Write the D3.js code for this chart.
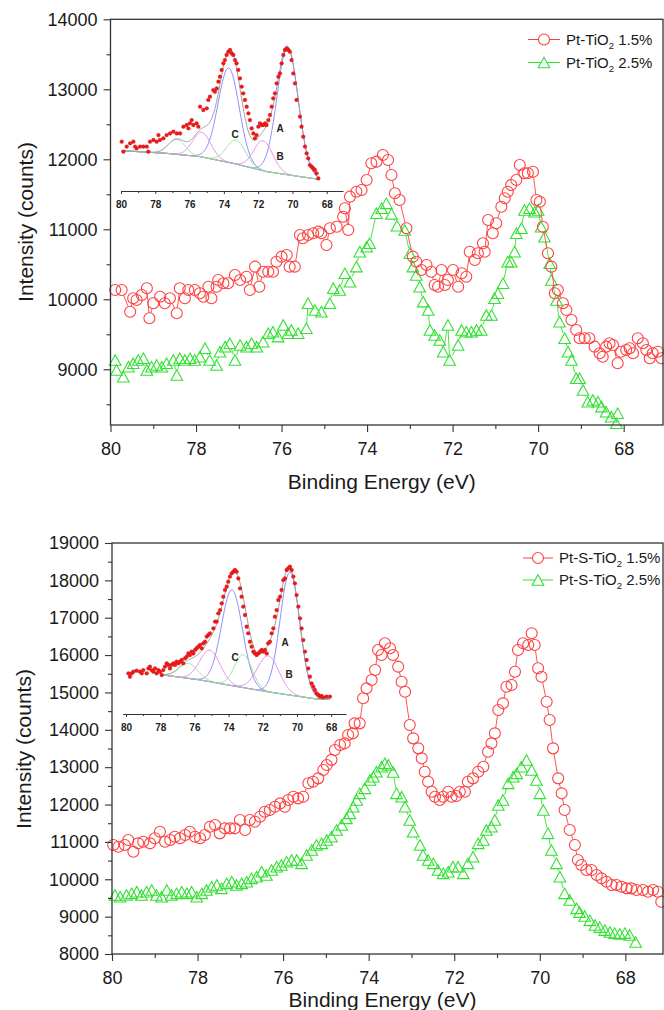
<!DOCTYPE html>
<html><head><meta charset="utf-8">
<script src="https://cdn.jsdelivr.net/npm/d3@7"></script>
<style>
body{margin:0;background:#fff}
svg{display:block}
text{font-family:"Liberation Sans",Arial,Helvetica,sans-serif}
</style>
</head><body>
<svg id="c" width="664" height="1010"></svg>
<script>
// ---------------- DATA ----------------
const xMajorTicks = [80, 78, 76, 74, 72, 70, 68];
const xMinorTicks = [79, 77, 75, 73, 71, 69];
const topYTicks = [9000, 10000, 11000, 12000, 13000, 14000];
const topYMinor = [8500, 9500, 10500, 11500, 12500, 13500];
const botYTicks = [8000, 9000, 10000, 11000, 12000, 13000, 14000, 15000, 16000, 17000, 18000, 19000];
const botYMinor = [8500, 9500, 10500, 11500, 12500, 13500, 14500, 15500, 16500, 17500, 18500];

const topLabels = ["Pt-TiO", "2", " 1.5%", " 2.5%"];
const botLabels = ["Pt-S-TiO", "2", " 1.5%", " 2.5%"];
const xTitle = "Binding Energy (eV)";
const yTitle = "Intensity (counts)";

// Pt-TiO2 1.5% (binding energy eV, counts)
const topRed = [[79.89,10133],[79.74,10133],[79.54,9823],[79.47,10014],[79.39,9990],[79.27,10061],[79.15,10157],[79.09,9729],[79.00,9943],[78.84,10037],[78.73,9943],[78.61,10014],[78.45,9800],[78.38,10157],[78.26,10014],[78.18,10133],[78.03,10133],[77.91,10086],[77.83,10037],[77.71,10180],[77.64,10014],[77.52,10180],[77.48,10276],[77.36,10229],[77.25,10229],[77.09,10347],[76.97,10276],[76.82,10323],[76.74,10133],[76.62,10466],[76.52,10180],[76.43,10394],[76.31,10394],[76.20,10394],[76.12,10537],[76.00,10609],[75.88,10633],[75.81,10466],[75.69,10466],[75.57,10919],[75.50,10871],[75.38,10919],[75.26,10943],[75.14,10966],[75.07,10943],[74.95,10776],[74.87,11014],[74.71,11037],[74.56,11180],[74.52,11300],[74.44,10990],[74.40,11466],[74.25,11537],[74.13,11561],[74.01,11704],[73.90,11943],[73.78,11966],[73.63,12061],[73.51,11990],[73.43,11776],[73.35,11514],[73.24,11419],[73.08,11014],[72.93,10609],[72.85,10537],[72.73,10419],[72.61,10490],[72.50,10394],[72.42,10204],[72.34,10180],[72.26,10419],[72.18,10204],[72.11,10276],[71.99,10419],[71.87,10180],[71.79,10371],[71.68,10323],[71.60,10680],[71.48,10561],[71.41,10657],[71.29,10800],[71.25,10680],[71.17,11133],[71.06,10943],[70.98,11086],[70.86,11323],[70.78,11443],[70.71,11537],[70.63,11633],[70.51,11704],[70.43,11919],[70.32,11800],[70.24,11800],[70.12,11823],[70.04,11419],[69.96,11394],[69.89,11037],[69.77,10657],[69.69,10466],[69.61,10086],[69.54,10133],[69.42,9943],[69.34,9847],[69.22,9704],[69.11,9561],[69.03,9443],[68.91,9443],[68.80,9443],[68.68,9323],[68.56,9229],[68.49,9180],[68.41,9323],[68.33,9371],[68.25,9347],[68.14,9086],[68.06,9251],[67.94,9276],[67.86,9300],[67.78,9229],[67.67,9443],[67.55,9371],[67.47,9276],[67.39,9157],[67.32,9229],[67.20,9251],[67.12,9157]];

// Pt-TiO2 2.5%
const topGreen = [[79.89,9133],[79.86,8990],[79.70,8894],[79.58,9037],[79.47,9086],[79.35,9133],[79.23,9157],[79.15,8990],[79.04,9037],[78.92,9061],[78.80,9037],[78.69,9086],[78.53,9133],[78.45,8919],[78.38,9157],[78.26,9133],[78.14,9157],[78.03,9133],[77.91,9180],[77.79,9300],[77.68,9133],[77.52,9061],[77.44,9251],[77.32,9323],[77.21,9371],[77.09,9133],[76.97,9347],[76.82,9323],[76.70,9371],[76.58,9323],[76.43,9394],[76.31,9514],[76.20,9537],[76.08,9466],[75.96,9633],[75.85,9514],[75.77,9561],[75.61,9514],[75.42,9586],[75.38,9943],[75.22,9847],[75.07,9823],[74.87,9943],[74.79,10157],[74.64,10133],[74.52,10371],[74.40,10251],[74.25,10466],[74.17,10680],[74.01,10751],[73.94,10800],[73.78,11229],[73.66,11300],[73.55,11371],[73.43,11220],[73.30,11050],[73.12,10990],[73.00,10657],[72.93,10466],[72.85,10347],[72.77,10180],[72.69,9966],[72.57,9847],[72.53,9561],[72.42,9490],[72.30,9419],[72.22,9251],[72.11,9633],[72.07,9133],[71.87,9347],[71.79,9561],[71.68,9537],[71.56,9537],[71.44,9561],[71.33,9561],[71.21,9776],[71.09,9776],[71.02,10014],[70.94,10086],[70.82,10229],[70.71,10537],[70.63,10537],[70.55,10680],[70.51,10943],[70.39,11014],[70.32,11276],[70.20,11300],[70.08,11251],[70.00,11276],[69.93,11037],[69.85,10894],[69.73,10514],[69.69,10276],[69.57,9990],[69.50,9680],[69.38,9443],[69.30,9251],[69.22,9133],[69.11,8871],[69.03,8871],[68.95,8704],[68.84,8537],[68.72,8561],[68.60,8537],[68.52,8466],[68.41,8394],[68.29,8323],[68.17,8229],[68.14,8371]];

// Pt-S-TiO2 1.5%
const botRed = [[79.97,10917],[79.85,10871],[79.70,10917],[79.62,11050],[79.50,10737],[79.39,10962],[79.27,11005],[79.11,10962],[79.00,11096],[78.88,11273],[78.76,11005],[78.64,11050],[78.53,11139],[78.41,11096],[78.29,11184],[78.18,11273],[78.06,11139],[77.94,11096],[77.83,11184],[77.71,11406],[77.59,11452],[77.48,11229],[77.36,11363],[77.24,11363],[77.13,11363],[77.01,11585],[76.89,11318],[76.78,11585],[76.66,11540],[76.54,11674],[76.43,11808],[76.31,11853],[76.19,11942],[76.07,12031],[75.96,11942],[75.88,12121],[75.76,12210],[75.65,12165],[75.53,12210],[75.41,12568],[75.30,12612],[75.18,12701],[75.06,12924],[74.98,13058],[74.87,13196],[74.79,13459],[74.67,13593],[74.56,13638],[74.48,13861],[74.37,13906],[74.33,14173],[74.21,14173],[74.13,14843],[74.05,15110],[73.93,15333],[73.85,15601],[73.78,16136],[73.70,16002],[73.62,16315],[73.50,16182],[73.43,16002],[73.31,15690],[73.23,15288],[73.15,15020],[73.04,14128],[72.96,13771],[72.84,13504],[72.76,13237],[72.69,12879],[72.61,12612],[72.53,12344],[72.45,12210],[72.34,12121],[72.26,12210],[72.14,12344],[72.06,12210],[71.95,12228],[71.87,12344],[71.75,12344],[71.68,12612],[71.56,12701],[71.44,12879],[71.32,13013],[71.21,13415],[71.13,13638],[71.05,13906],[70.97,14530],[70.86,14709],[70.78,15154],[70.66,15199],[70.58,15556],[70.51,16136],[70.39,16315],[70.27,16270],[70.19,16583],[70.12,16270],[70.04,15646],[69.96,15421],[69.84,14752],[69.77,14262],[69.69,13504],[69.57,12701],[69.49,12300],[69.42,11853],[69.30,11318],[69.18,10917],[69.11,10515],[69.03,10381],[68.91,10247],[68.79,10247],[68.67,10114],[68.56,10025],[68.44,9934],[68.32,9846],[68.21,9846],[68.09,9800],[67.97,9757],[67.86,9757],[67.74,9712],[67.59,9712],[67.47,9667],[67.35,9712],[67.24,9667],[67.16,9399]];

// Pt-S-TiO2 2.5%
const botGreen = [[79.93,9578],[79.81,9533],[79.66,9578],[79.54,9623],[79.42,9667],[79.31,9578],[79.19,9667],[79.07,9712],[78.96,9578],[78.84,9533],[78.72,9712],[78.61,9578],[78.49,9623],[78.37,9667],[78.25,9623],[78.14,9667],[78.02,9533],[77.90,9623],[77.79,9712],[77.67,9800],[77.55,9846],[77.44,9757],[77.32,9890],[77.20,9934],[77.09,9846],[76.97,9890],[76.85,9934],[76.74,10025],[76.62,10068],[76.50,10202],[76.39,10114],[76.27,10247],[76.15,10336],[76.04,10381],[75.92,10470],[75.80,10515],[75.68,10515],[75.57,10426],[75.45,10649],[75.33,10783],[75.22,10917],[75.10,10962],[74.98,11050],[74.87,11139],[74.75,11318],[74.63,11452],[74.52,11630],[74.44,11764],[74.36,11942],[74.28,12121],[74.21,12300],[74.09,12434],[73.97,12656],[73.89,12745],[73.82,12879],[73.70,13013],[73.62,13103],[73.54,13058],[73.43,12870],[73.35,12300],[73.23,12210],[73.15,11942],[73.04,11585],[72.96,11273],[72.80,10917],[72.73,10649],[72.61,10515],[72.49,10426],[72.38,10247],[72.26,10158],[72.14,10202],[72.03,10336],[71.91,10336],[71.79,10158],[71.68,10426],[71.56,10604],[71.44,10962],[71.32,11050],[71.25,11318],[71.13,11406],[71.05,11585],[70.97,11987],[70.86,12121],[70.74,12568],[70.62,12745],[70.54,12834],[70.43,13013],[70.31,13192],[70.19,12924],[70.08,12656],[70.00,12300],[69.92,11853],[69.81,11229],[69.73,10783],[69.61,10426],[69.53,10068],[69.42,9623],[69.30,9444],[69.14,9221],[69.07,9120],[68.95,9016],[68.83,8900],[68.71,8775],[68.60,8720],[68.48,8640],[68.36,8590],[68.25,8560],[68.13,8535],[68.01,8560],[67.90,8510],[67.76,8320]];

// Inset (Pt 4f deconvolution), relative intensity (a.u.)
const topInsetPts = [[79.96,28.9],[79.86,22.2],[79.67,25.6],[79.47,27.8],[79.28,28.9],[79.18,25.6],[79.09,24.4],[78.89,25.6],[78.70,25.6],[78.50,25.6],[78.41,22.2],[78.31,28.9],[78.11,30.0],[77.92,28.9],[77.82,33.3],[77.73,30.0],[77.53,31.1],[77.34,33.3],[77.14,34.4],[76.95,35.6],[76.75,34.4],[76.56,34.4],[76.36,38.9],[76.17,40.0],[76.07,37.8],[75.98,41.1],[75.88,43.3],[75.78,40.0],[75.59,41.1],[75.49,38.9],[75.39,52.2],[75.20,50.0],[75.00,51.1],[74.91,56.7],[74.81,58.9],[74.62,63.3],[74.52,62.2],[74.42,64.4],[74.32,68.9],[74.23,72.2],[74.13,76.7],[74.03,81.1],[73.94,83.3],[73.84,86.7],[73.74,88.9],[73.64,90.0],[73.55,87.8],[73.45,86.7],[73.35,83.3],[73.26,81.1],[73.16,76.7],[73.06,71.1],[72.96,65.6],[72.87,61.1],[72.77,56.7],[72.67,52.2],[72.57,47.8],[72.48,43.3],[72.38,37.8],[72.28,34.4],[72.19,31.1],[72.09,33.3],[71.99,38.9],[71.89,41.1],[71.80,40.0],[71.70,40.0],[71.60,41.1],[71.51,40.0],[71.41,43.3],[71.31,46.7],[71.21,52.2],[71.12,57.8],[71.02,61.1],[70.92,67.8],[70.82,72.2],[70.73,74.4],[70.63,81.1],[70.53,86.7],[70.44,90.0],[70.34,91.1],[70.24,90.0],[70.15,88.9],[70.05,83.3],[69.95,74.4],[69.85,67.8],[69.76,56.7],[69.56,45.6],[69.47,38.9],[69.37,32.2],[69.27,25.6],[69.17,21.1],[69.08,17.8],[68.98,13.3],[68.88,12.2],[68.78,11.1],[68.69,10.0],[68.59,7.8],[68.49,4.4]];
const topInsetBaseE = [79.96, 77.34, 75.39, 73.45, 71.5, 69.56, 68.45];
const topInsetBaseV = [22.9, 21.1, 18.9, 14.4, 8.9, 5.6, 3.8];
const topInsetCenters = [70.28, 73.72, 71.70, 75.29, 73.29, 76.75];
const topInsetHeights = [85, 63, 20, 16.5, 16, 10];
const topInsetFwhm = [1.45, 1.45, 1.3, 1.25, 1.3, 1.15];

const botInsetPts = [[79.86,21.1],[79.77,18.9],[79.67,21.1],[79.57,22.2],[79.38,22.9],[79.18,22.2],[79.08,21.1],[78.99,23.3],[78.79,21.1],[78.69,24.4],[78.60,25.6],[78.50,23.3],[78.40,22.2],[78.30,24.4],[78.21,21.1],[78.11,23.3],[78.01,22.2],[77.91,20.0],[77.82,23.3],[77.72,25.6],[77.62,27.8],[77.52,26.7],[77.43,24.4],[77.33,26.7],[77.23,27.8],[77.13,26.7],[77.04,28.9],[76.94,27.8],[76.84,28.9],[76.74,30.0],[76.65,27.8],[76.55,31.1],[76.45,32.2],[76.35,34.4],[76.26,33.3],[76.16,35.6],[76.06,34.4],[75.96,36.7],[75.87,37.8],[75.77,38.9],[75.67,40.0],[75.57,37.8],[75.48,41.1],[75.38,42.2],[75.28,45.6],[75.18,46.7],[75.09,47.8],[74.89,51.1],[74.79,55.6],[74.70,55.6],[74.60,61.1],[74.50,63.3],[74.40,67.8],[74.31,72.2],[74.21,76.7],[74.11,78.9],[74.02,82.2],[73.92,85.6],[73.82,87.8],[73.72,88.9],[73.63,90.0],[73.53,88.9],[73.43,84.4],[73.33,77.8],[73.24,72.2],[73.14,65.6],[73.04,60.0],[72.94,52.2],[72.85,47.8],[72.75,42.2],[72.65,38.9],[72.55,35.6],[72.46,34.4],[72.36,33.3],[72.26,34.4],[72.16,35.6],[72.07,36.7],[71.97,35.6],[71.87,36.7],[71.77,34.4],[71.68,41.1],[71.58,42.2],[71.48,47.8],[71.38,51.1],[71.29,58.9],[71.19,63.3],[71.09,70.0],[70.99,72.2],[70.90,76.7],[70.80,83.3],[70.70,84.4],[70.60,90.0],[70.51,91.1],[70.41,92.2],[70.31,90.0],[70.21,85.6],[70.12,81.1],[70.02,73.3],[69.92,65.6],[69.82,57.8],[69.73,51.1],[69.63,43.3],[69.53,35.6],[69.43,30.0],[69.34,24.4],[69.24,18.9],[69.14,14.4],[69.04,12.2],[68.95,10.0],[68.85,7.8],[68.75,6.7],[68.65,5.6],[68.56,6.0],[68.46,5.1],[68.27,5.6],[68.07,5.6]];
const botInsetBaseE = [77.82, 75.67, 73.72, 71.77, 69.82, 68.85, 68.07];
const botInsetBaseV = [20.0, 16.7, 12.7, 8.9, 5.6, 4.0, 3.8];
const botInsetCenters = [70.41, 73.80, 71.68, 75.09, 73.14, 76.35];
const botInsetHeights = [82, 64, 24, 21, 22, 10];
const botInsetFwhm = [1.35, 1.45, 1.5, 1.4, 1.2, 1.3];
const componentColors = ["#8080ff", "#8080ff", "#e680e6", "#e680e6", "#8ce28c", "#8ce28c"];
const peakNames = ["A", "B", "C"];

// ---------------- DRAW ----------------
const svg = d3.select("#c");
const RED = "#ff4040", GREEN = "#33e033", FRAME = "#333";

function triPath(cx, cy, s) {
  return `M${cx},${cy - s}L${cx + s},${cy + s * 0.82}L${cx - s},${cy + s * 0.82}Z`;
}

function drawSeries(g, data, x, y, color, shape) {
  const pts = data.slice().sort((a, b) => b[0] - a[0]).map(d => [x(d[0]), y(d[1])]);
  const gap = 5.5;
  const segs = [];
  for (let i = 0; i < pts.length - 1; i++) {
    const [x1, y1] = pts[i], [x2, y2] = pts[i + 1];
    const dx = x2 - x1, dy = y2 - y1, L = Math.hypot(dx, dy);
    if (L > 2 * gap + 0.5) {
      const ux = dx / L, uy = dy / L;
      segs.push([x1 + ux * gap, y1 + uy * gap, x2 - ux * gap, y2 - uy * gap]);
    }
  }
  g.append("g").selectAll("line").data(segs).join("line")
    .attr("x1", d => d[0]).attr("y1", d => d[1]).attr("x2", d => d[2]).attr("y2", d => d[3])
    .attr("stroke", color).attr("stroke-width", 0.9);
  if (shape === "circle") {
    g.append("g").selectAll("circle").data(pts).join("circle")
      .attr("cx", d => d[0]).attr("cy", d => d[1]).attr("r", 5.5)
      .attr("fill", "none").attr("stroke", color).attr("stroke-width", 1.1);
  } else {
    g.append("g").selectAll("path").data(pts).join("path")
      .attr("d", d => triPath(d[0], d[1] + 0.5, 5.8))
      .attr("fill", "none").attr("stroke", color).attr("stroke-width", 1.1);
  }
}

function styleAxis(g, size, weight) {
  g.select(".domain").remove();
  g.selectAll("line").attr("stroke", FRAME).attr("stroke-width", 1.1);
  g.selectAll("text").attr("font-size", size).attr("font-weight", weight || "normal")
    .attr("fill", "#1a1a1a").attr("font-family", '"Liberation Sans",Arial,sans-serif');
}

function panel(cfg) {
  const x = d3.scaleLinear().domain(cfg.xDomain).range([cfg.left, cfg.right]);
  const y = d3.scaleLinear().domain(cfg.yDomain).range([cfg.bottom, cfg.top]);
  const g = svg.append("g");

  drawSeries(g, cfg.green, x, y, GREEN, "tri");
  drawSeries(g, cfg.red, x, y, RED, "circle");

  // axes
  const gx = g.append("g").attr("transform", `translate(0,${cfg.bottom})`)
    .call(d3.axisBottom(x).tickValues(xMajorTicks).tickSize(7).tickPadding(10).tickFormat(d3.format("d")));
  styleAxis(gx, 18);
  const gxm = g.append("g").attr("transform", `translate(0,${cfg.bottom})`)
    .call(d3.axisBottom(x).tickValues(xMinorTicks).tickSize(4).tickFormat(""));
  styleAxis(gxm, 18);
  const gy = g.append("g").attr("transform", `translate(${cfg.left},0)`)
    .call(d3.axisLeft(y).tickValues(cfg.yTicks).tickSize(7).tickPadding(6).tickFormat(d3.format("d")));
  styleAxis(gy, 18);
  const gym = g.append("g").attr("transform", `translate(${cfg.left},0)`)
    .call(d3.axisLeft(y).tickValues(cfg.yMinor).tickSize(4).tickFormat(""));
  styleAxis(gym, 18);

  g.append("rect").attr("x", cfg.left).attr("y", cfg.top)
    .attr("width", cfg.right - cfg.left).attr("height", cfg.bottom - cfg.top)
    .attr("fill", "none").attr("stroke", FRAME).attr("stroke-width", 1.3);

  // titles
  g.append("text").attr("x", (cfg.left + cfg.right) / 2 - 5).attr("y", cfg.xTitleY)
    .attr("text-anchor", "middle").attr("font-size", 21).attr("fill", "#1a1a1a").text(xTitle);
  g.append("text").attr("transform", `translate(${cfg.yTitleX},${cfg.yTitleCY}) rotate(-90)`)
    .attr("text-anchor", "middle").attr("font-size", 21).attr("fill", "#1a1a1a").text(yTitle);

  // legend
  const L = cfg.legend;
  [[RED, "circle", L.labels[2]], [GREEN, "tri", L.labels[3]]].forEach((s, i) => {
    const yy = L.y + i * L.dy;
    g.append("line").attr("x1", L.x0).attr("x2", L.x1).attr("y1", yy).attr("y2", yy)
      .attr("stroke", s[0]).attr("stroke-width", 1);
    if (s[1] === "circle") {
      g.append("circle").attr("cx", (L.x0 + L.x1) / 2).attr("cy", yy).attr("r", 5.5)
        .attr("fill", "#fff").attr("stroke", s[0]).attr("stroke-width", 1.1);
    } else {
      g.append("path").attr("d", triPath((L.x0 + L.x1) / 2, yy + 0.5, 5.8))
        .attr("fill", "#fff").attr("stroke", s[0]).attr("stroke-width", 1.1);
    }
    const t = g.append("text").attr("x", L.tx).attr("y", yy + 5.3).attr("font-size", 15).attr("fill", "#1a1a1a");
    t.append("tspan").text(L.labels[0]);
    t.append("tspan").attr("font-size", 9.5).attr("dy", 4).text(L.labels[1]);
    t.append("tspan").attr("dy", -4).text(s[2]);
  });

  // inset
  const I = cfg.inset;
  const ix = d3.scaleLinear().domain(I.xDomain).range(I.xRange);
  const iy = d3.scaleLinear().domain([0, 100]).range([I.y0, I.y0 - 150]);
  const base = d3.scaleLinear().domain(I.baseE).range(I.baseV).clamp(true);
  const Es = d3.range(I.fit[0], I.fit[1] - 0.001, -0.04);
  const gauss = (E, k) => I.heights[k] * Math.exp(-4 * Math.LN2 * Math.pow((E - I.centers[k]) / I.fwhm[k], 2));
  const lineGen = d3.line().x(d => ix(d[0])).y(d => iy(d[1]));
  const gi = g.append("g");
  gi.append("path").attr("d", lineGen(Es.map(E => [E, base(E)])))
    .attr("fill", "none").attr("stroke", "#8a8ad8").attr("stroke-width", 1);
  I.centers.forEach((c, k) => {
    gi.append("path").attr("d", lineGen(Es.map(E => [E, base(E) + gauss(E, k)])))
      .attr("fill", "none").attr("stroke", componentColors[k]).attr("stroke-width", 0.9);
  });
  gi.append("path").attr("d", lineGen(Es.map(E => [E, base(E) + I.centers.reduce((s, c, k) => s + gauss(E, k), 0)])))
    .attr("fill", "none").attr("stroke", "#a0a0a0").attr("stroke-width", 1);
  gi.append("g").selectAll("circle").data(I.pts).join("circle")
    .attr("cx", d => ix(d[0])).attr("cy", d => iy(d[1])).attr("r", 1.9)
    .attr("fill", "#ee1a1a").attr("stroke", "#c81010").attr("stroke-width", 0.3);
  const iax = gi.append("g").attr("transform", `translate(0,${I.axisY})`)
    .call(d3.axisBottom(ix).tickValues(xMajorTicks).tickSize(3).tickPadding(7).tickSizeOuter(0).tickFormat(d3.format("d")));
  iax.select(".domain").attr("stroke", FRAME).attr("stroke-width", 1);
  iax.selectAll("line").attr("stroke", FRAME);
  iax.selectAll("text").attr("font-size", 10).attr("font-weight", "bold").attr("fill", "#222");
  const iaxm = gi.append("g").attr("transform", `translate(0,${I.axisY})`)
    .call(d3.axisBottom(ix).tickValues(xMinorTicks).tickSize(2).tickFormat(""));
  iaxm.select(".domain").remove();
  iaxm.selectAll("line").attr("stroke", FRAME);
  peakNames.forEach((n, k) => {
    gi.append("text").attr("x", I.labelPos[k][0]).attr("y", I.labelPos[k][1] + 3.5)
      .attr("text-anchor", "middle").attr("font-size", 10).attr("font-weight", "bold").attr("fill", "#222").text(n);
  });
}

panel({
  xDomain: [80, 67.08], yDomain: [8204, 14000],
  left: 110.5, right: 663, top: 19.3, bottom: 425,
  yTicks: topYTicks, yMinor: topYMinor,
  red: topRed, green: topGreen,
  xTitleY: 489, yTitleX: 33, yTitleCY: 222,
  legend: { x0: 528, x1: 560, tx: 566, y: 39.5, dy: 23, labels: topLabels },
  inset: { xDomain: [80.02, 67.05], xRange: [120.7, 343], y0: 185, axisY: 191,
    pts: topInsetPts, baseE: topInsetBaseE, baseV: topInsetBaseV,
    centers: topInsetCenters, heights: topInsetHeights, fwhm: topInsetFwhm,
    fit: [79.96, 68.45], labelPos: [[280, 128], [280, 156], [235, 134]] }
});

panel({
  xDomain: [80, 67.12], yDomain: [8000, 19000],
  left: 112, right: 663, top: 543, bottom: 954,
  yTicks: botYTicks, yMinor: botYMinor,
  red: botRed, green: botGreen,
  xTitleY: 1007, yTitleX: 30.5, yTitleCY: 749,
  legend: { x0: 523, x1: 553, tx: 559, y: 558, dy: 22, labels: botLabels },
  inset: { xDomain: [80.2, 67.13], xRange: [122.6, 346], y0: 705, axisY: 714,
    pts: botInsetPts, baseE: botInsetBaseE, baseV: botInsetBaseV,
    centers: botInsetCenters, heights: botInsetHeights, fwhm: botInsetFwhm,
    fit: [77.82, 68.07], labelPos: [[285, 642], [289, 674], [235, 657]] }
});
</script>
</body></html>
